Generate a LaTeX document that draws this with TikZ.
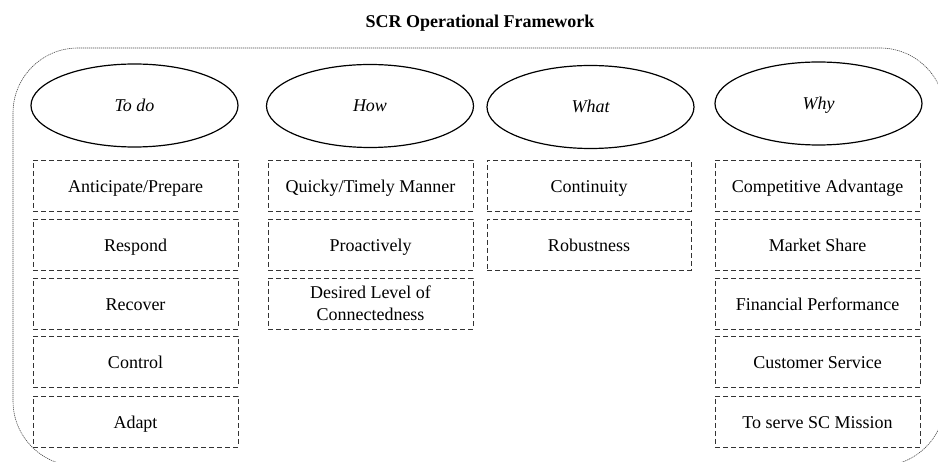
\documentclass[tikz,border=0pt]{standalone}
\usepackage{fontspec}
\setmainfont{Liberation Serif}
\usetikzlibrary{shapes.geometric}
\tikzset{
  cat/.style={draw, ellipse, line width=1.2pt, minimum width=207pt, minimum height=83pt,
    inner sep=0pt, text height=12pt, text depth=0pt, font=\fontsize{18}{21}\selectfont\itshape},
  item/.style={draw=black!80, line width=0.8pt, dash pattern=on 5pt off 3pt,
    minimum width=205pt, minimum height=51pt, inner sep=0pt, align=center,
    text height=14pt, text depth=0pt, font=\fontsize{18}{22}\selectfont},
  itemtwo/.style={item, text height=35pt, text depth=0pt},
  frame/.style={draw=black!70, line width=0.6pt, dash pattern=on 1.2pt off 0.8pt, rounded corners=65pt},
  titletext/.style={font=\fontsize{18}{21}\selectfont\bfseries, anchor=base, inner sep=0pt}
}
\begin{document}
\begin{tikzpicture}[x=1pt,y=-1pt]
\useasboundingbox (0,0) rectangle (938,462);
\fill[white] (0,0) rectangle (938,462);
\begin{scope}
  \clip (0,0) rectangle (938,462);
  \draw[frame] (13,48) rectangle (945,466);
\end{scope}
\node[titletext] (title) at (480,27.5) {SCR Operational Framework};

% headers
\node[cat] (todo) at (134.5,105.5) {To do};
\node[cat] (how)  at (370,106) {How};
\node[cat] (what) at (590.5,107) {What};
\node[cat] (why)  at (818.5,103.5) {Why};

% column 1
\node[item] (a1) at (135.5,185.5) {Anticipate/Prepare};
\node[item] (a2) at (135.5,244.5) {Respond};
\node[item] (a3) at (135.5,303.5) {Recover};
\node[item] (a4) at (135.5,362) {Control};
\node[item] (a5) at (135.5,421.5) {Adapt};

% column 2
\node[item] (b1) at (370.5,185.5) {Quicky/Timely Manner};
\node[item] (b2) at (370.5,244.5) {Proactively};
\node[itemtwo] (b3) at (370.5,303.5) {Desired Level of\\Connectedness};

% column 3
\node[item, minimum width=204pt] (c1) at (589,185.5) {Continuity};
\node[item, minimum width=204pt] (c2) at (589,244.5) {Robustness};

% column 4
\node[item] (d1) at (817.5,185.5) {Competitive Advantage};
\node[item] (d2) at (817.5,244.5) {Market Share};
\node[item] (d3) at (817.5,303.5) {Financial Performance};
\node[item] (d4) at (817.5,362) {Customer Service};
\node[item] (d5) at (817.5,421.5) {To serve SC Mission};
\end{tikzpicture}
\end{document}
